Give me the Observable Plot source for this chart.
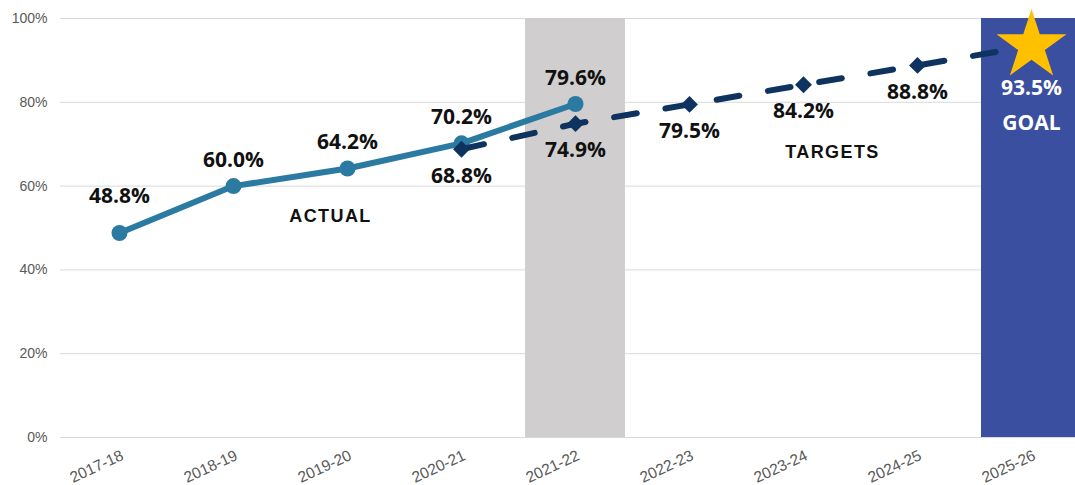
<!DOCTYPE html>
<html>
<head>
<meta charset="utf-8">
<script src="https://cdn.jsdelivr.net/npm/d3@7"></script>
<script src="https://cdn.jsdelivr.net/npm/@observablehq/plot@0.6"></script>
<style>
  body { margin: 0; background: #fff; }
  #chart svg { overflow: hidden; }
</style>
</head>
<body>
<div id="chart"></div>
<script>
// ---- Data ----
const years = ["2017-18", "2018-19", "2019-20", "2020-21", "2021-22", "2022-23", "2023-24", "2024-25", "2025-26"];
const actualYears = ["2017-18", "2018-19", "2019-20", "2020-21", "2021-22"];
const actualValues = [0.488, 0.600, 0.642, 0.702, 0.796];
const targetYears = ["2020-21", "2021-22", "2022-23", "2023-24", "2024-25", "2025-26"];
const targetValues = [0.688, 0.749, 0.795, 0.842, 0.888, 0.935];
const highlightYears = ["2021-22"];
const goalYears = ["2025-26"];
const goalText = ["GOAL"];
const seriesNames = ["ACTUAL", "TARGETS"];
const yTicks = [0, 0.2, 0.4, 0.6, 0.8, 1.0];

// ---- Build tables ----
const actual = actualYears.map((year, i) => ({year, value: actualValues[i]}));
const target = targetYears.map((year, i) => ({year, value: targetValues[i]}));
const targetPts = target.filter(d => !goalYears.includes(d.year));
const goal = target.filter(d => goalYears.includes(d.year));
const pct = d3.format(".1%");

const TEAL = "#2a7aa2";
const NAVY = "#0e335f";
const GRAY_BAND = "#d0cece";
const GOAL_BAND = "#3a4f9f";
const GOLD = "#ffc000";
const AXIS_FONT = "'Liberation Sans', Arial, sans-serif";
const NUM_FONT = "'Open Sans', 'Liberation Sans', sans-serif";

const numText = (data, dy, fill) => Plot.text(data, {
  x: "year", y: "value", text: d => pct(d.value), dy,
  fontSize: 21, fontWeight: "bold", fontFamily: NUM_FONT, fill
});

const chart = Plot.plot({
  width: 1075,
  height: 485,
  marginLeft: 60,
  marginRight: 0,
  marginTop: 18,
  marginBottom: 48,
  style: {fontFamily: AXIS_FONT, background: "#fff"},
  x: {type: "band", domain: years, range: [60, 1090], paddingInner: 0.127, paddingOuter: 0.0635, label: null},
  y: {domain: [0, 1], label: null},
  marks: [
    Plot.ruleY(yTicks, {stroke: "#d9d9d9", strokeWidth: 1}),
    Plot.barY(highlightYears, {x: d => d, y1: 0, y2: yTicks[yTicks.length - 1], fill: GRAY_BAND}),
    Plot.barY(goalYears, {x: d => d, y1: 0, y2: yTicks[yTicks.length - 1], fill: GOAL_BAND}),
    Plot.axisY(yTicks, {tickFormat: d3.format(".0%"), tickSize: 0, tickPadding: 13, fontSize: 14, fill: "#595959", label: null}),
    Plot.axisX({tickSize: 0, tickPadding: 17, dx: 3, tickRotate: -25, fontSize: 15.5, fill: "#595959", label: null}),
    Plot.line(actual, {x: "year", y: "value", stroke: TEAL, strokeWidth: 6}),
    Plot.dot(actual, {x: "year", y: "value", r: 8, fill: TEAL}),
    Plot.line(target, {x: "year", y: "value", stroke: NAVY, strokeWidth: 6, strokeDasharray: "23,29", strokeLinecap: "round"}),
    Plot.dot(targetPts, {x: "year", y: "value", symbol: "diamond2", r: 7.6, fill: NAVY}),
    Plot.dot(goal, {x: "year", y: "value", symbol: "star", r: 22, fill: GOLD}),
    // actual labels (above)
    numText(actual.slice(0, 1), -37, "#111"),
    numText(actual.slice(1), -26, "#111"),
    // target labels (below)
    numText(targetPts, 27, "#111"),
    // goal labels
    numText(goal, 43, "#fff"),
    Plot.text(goal, {x: "year", y: "value", text: () => goalText[0], dy: 78, fontSize: 21, fontWeight: "bold", fontFamily: NUM_FONT, fill: "#fff"}),
    // series annotations
    Plot.text([seriesNames[0]], {x: () => "2019-20", y: () => 0.527, text: d => d, dx: -17, fontSize: 18, fontWeight: "bold", fill: "#111"}),
    Plot.text([seriesNames[1]], {x: () => "2023-24", y: () => 0.68, text: d => d, dx: 29, fontSize: 18, fontWeight: "bold", fill: "#111"})
  ]
});
d3.select(chart).selectAll("text")
  .filter(function() { return seriesNames.includes(this.textContent); })
  .style("letter-spacing", "1.4px");
document.getElementById("chart").append(chart);
</script>
</body>
</html>
